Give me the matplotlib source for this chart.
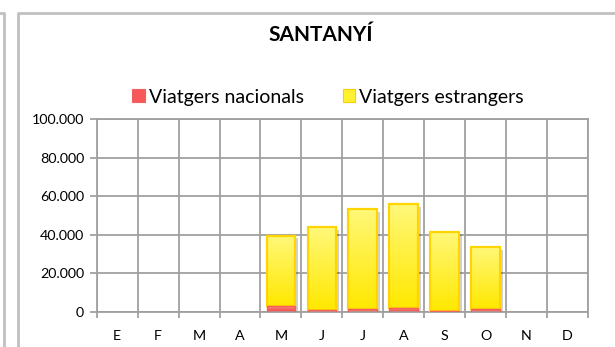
import numpy as np
import matplotlib
matplotlib.use('Agg')
import matplotlib.pyplot as plt
from matplotlib.lines import Line2D
from matplotlib.patches import Patch, Rectangle
import matplotlib.patheffects as pe

plt.rcParams['font.family'] = ['Lato', 'DejaVu Sans']

months = ['E', 'F', 'M', 'A', 'M', 'J', 'J', 'A', 'S', 'O', 'N', 'D']
nacionals = [0, 0, 0, 0, 3000, 900, 1500, 2000, 500, 1200, 0, 0]
estrangers = [0, 0, 0, 0, 36500, 42900, 52000, 53800, 41100, 32400, 0, 0]
yticks = [0, 20000, 40000, 60000, 80000, 100000]
ytick_labels = ['0', '20.000', '40.000', '60.000', '80.000', '100.000']

W, H = 615, 347
fig = plt.figure(figsize=(W / 100, H / 100), dpi=100)
ax = fig.add_axes([96.7 / W, 1 - 311.7 / H, (588 - 96.7) / W, (311.7 - 119.3) / H])

grid_col = '#a0a0a0'
x = np.arange(len(months))


def gradient_bars(bars, top_col, bottom_col, edge_col, lw):
    # fill each bar with a vertical colour ramp, outline drawn on top
    grad = np.linspace(0, 1, 64).reshape(-1, 1, 1)
    c0 = np.array(matplotlib.colors.to_rgb(top_col))
    c1 = np.array(matplotlib.colors.to_rgb(bottom_col))
    img = c0 * (1 - grad) + c1 * grad
    for b in bars:
        if b.get_height() <= 0:
            b.set_visible(False)
            continue
        x0, y0 = b.get_x(), b.get_y()
        w, h = b.get_width(), b.get_height()
        ax.imshow(img, extent=[x0, x0 + w, y0, y0 + h], aspect='auto',
                  origin='upper', zorder=2.5, interpolation='bilinear')
        ax.add_patch(Rectangle((x0, y0), w, h, facecolor='none',
                               edgecolor=edge_col, linewidth=lw, zorder=3))


shadow = [pe.SimplePatchShadow(offset=(2, -2), shadow_rgbFace='#000000', alpha=0.18), pe.Normal()]
red_bars = ax.bar(x, nacionals, width=0.7, zorder=2, linewidth=0, color='white')
yel_bars = ax.bar(x, estrangers, bottom=nacionals, width=0.7, zorder=2, linewidth=0, color='white')
for b in list(red_bars) + list(yel_bars):
    b.set_path_effects(shadow)
gradient_bars(yel_bars, '#fff87a', '#ffe800', '#ffd400', 1.6)
gradient_bars(red_bars, '#ff8080', '#f04848', '#f06060', 1.0)

ax.set_xlim(-0.5, 11.5)
ax.set_ylim(0, 100000)
ax.set_yticks(yticks)
ax.set_yticklabels(ytick_labels)
ax.set_xticks(x)
ax.set_xticklabels(months)
ax.set_xticks(np.arange(-0.5, 12, 1), minor=True)
ax.grid(True, axis='y', color=grid_col, linewidth=1.3, zorder=0)
ax.grid(True, axis='x', which='minor', color=grid_col, linewidth=1.3, zorder=0)
ax.set_axisbelow(True)
ax.tick_params(axis='x', which='major', length=0, pad=13, labelsize=10.3, labelcolor='#000000')
ax.tick_params(axis='x', which='minor', length=4, width=1.3, color=grid_col)
ax.tick_params(axis='y', length=5, width=1.3, color=grid_col, pad=4, labelsize=10.3)
for s in ax.spines.values():
    s.set_color(grid_col)
    s.set_linewidth(1.3)

fig.text(321 / W, 1 - 35 / H, 'SANTANYÍ', ha='center', va='center',
         fontsize=15, fontweight='bold')

handles = [Patch(facecolor='#f85858', edgecolor='#f06060', linewidth=0.8),
           Patch(facecolor='#fff030', edgecolor='#ffcc00', linewidth=0.8)]
fig.legend(handles, ['Viatgers nacionals', 'Viatgers estrangers'], loc='center',
           bbox_to_anchor=(328 / W, 1 - 97 / H), ncol=2, frameon=False,
           fontsize=14, handlelength=0.65, handleheight=0.65, handletextpad=0.2,
           columnspacing=2.0)

# chart frames
fig.add_artist(Line2D([18 / W, 18 / W, 1.0], [0.0, 1 - 13 / H, 1 - 13 / H],
                      transform=fig.transFigure, color='#c0c0c0', linewidth=2))
fig.add_artist(Line2D([0.0, 4 / W, 4 / W], [1 - 13 / H, 1 - 13 / H, 0.0],
                      transform=fig.transFigure, color='#c0c0c0', linewidth=2))

fig.savefig('out.png', dpi=100)
